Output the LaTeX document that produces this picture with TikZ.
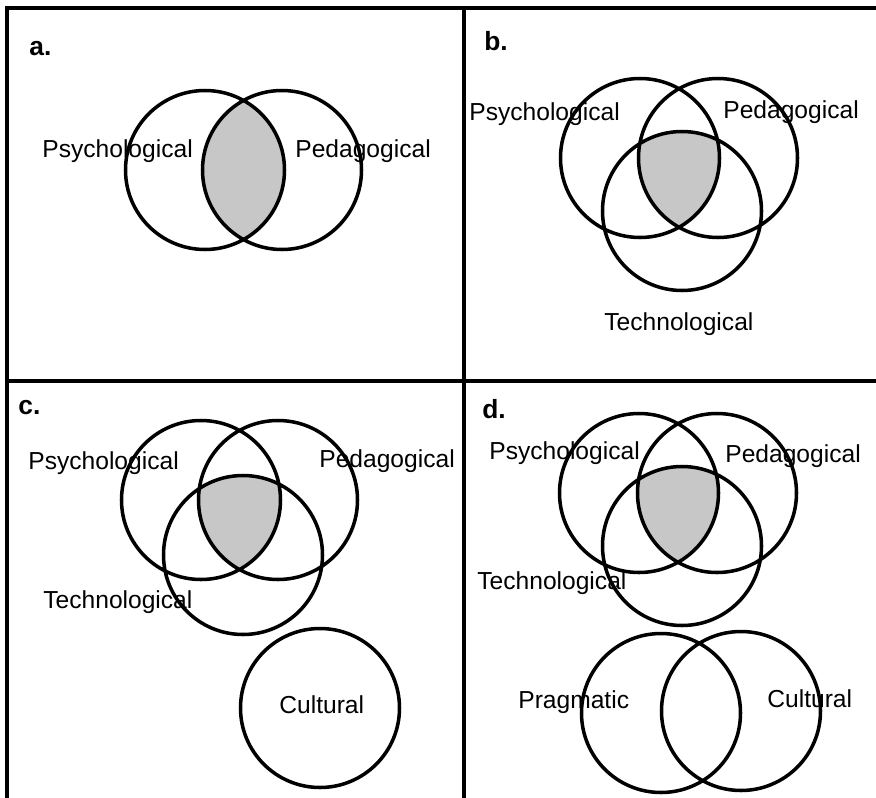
\documentclass[tikz,border=0pt]{standalone}
\usepackage{fontspec, tikz, tkz-euclide}
\setmainfont{Liberation Sans}

\tikzset{
  ring/.style={line width=2pt},
  core/.style={fill=black!22},
  lbl/.style={anchor=base west, inner sep=0pt, font=\fontsize{14}{16}\selectfont},
  tag/.style={anchor=base west, inner sep=0pt, font=\fontsize{15}{18}\selectfont\bfseries}
}
\def\rr{79.5}

\begin{document}
\begin{tikzpicture}[x=0.02cm, y=-0.02cm]
    \useasboundingbox (0,0) rectangle (876,798);
    % frame
    \tkzDefPoints{7/8/TL, 876/8/TR, 7/798/BL, 464/8/MT, 464/798/MB, 7/381/ML, 876/381/MR}
    \draw[ring] (BL) -- (TL) -- (TR) (MT) -- (MB) (ML) -- (MR);

    % a.
    \tkzDefPoints{205/170/aP, 282/170/aD}
    \begin{scope}
        \clip (aP) circle (\rr);
        \fill[core] (aD) circle (\rr);
    \end{scope}
    \draw[ring] (aP) circle (\rr) (aD) circle (\rr);
    \node[tag] (tagA) at (29,55) {a.};
    \node[lbl] (psyA) at (42,157) {Psychological};
    \node[lbl] (pedA) at (295,157) {Pedagogical};

    % b.
    \tkzDefPoints{640/158/bP, 718/158/bD, 682/211/bT}
    \begin{scope}
        \clip (bP) circle (\rr);
        \clip (bD) circle (\rr);
        \fill[core] (bT) circle (\rr);
    \end{scope}
    \draw[ring] (bP) circle (\rr) (bD) circle (\rr) (bT) circle (\rr);
    \node[tag] (tagB) at (484,50) {b.};
    \node[lbl] (psyB) at (469,120) {Psychological};
    \node[lbl] (pedB) at (723,118) {Pedagogical};
    \node[lbl] (tecB) at (604,330) {Technological};

    % c.
    \tkzDefPoints{201/500/cP, 278/500/cD, 243/555/cT, 320/708/cC}
    \begin{scope}
        \clip (cP) circle (\rr);
        \clip (cD) circle (\rr);
        \fill[core] (cT) circle (\rr);
    \end{scope}
    \draw[ring] (cP) circle (\rr) (cD) circle (\rr) (cT) circle (\rr) (cC) circle (\rr);
    \node[tag] (tagC) at (18,414) {c.};
    \node[lbl] (psyC) at (28,469) {Psychological};
    \node[lbl] (pedC) at (319,467) {Pedagogical};
    \node[lbl] (tecC) at (43,608) {Technological};
    \node[lbl] (culC) at (279,713) {Cultural};

    % d.
    \tkzDefPoints{639/493/dP, 717/493/dD, 682/546/dT, 661/713/dG, 741/711/dC}
    \begin{scope}
        \clip (dP) circle (\rr);
        \clip (dD) circle (\rr);
        \fill[core] (dT) circle (\rr);
    \end{scope}
    \draw[ring] (dP) circle (\rr) (dD) circle (\rr) (dT) circle (\rr)
        (dG) circle (\rr) (dC) circle (\rr);
    \node[tag] (tagD) at (482,418) {d.};
    \node[lbl] (psyD) at (489,459) {Psychological};
    \node[lbl] (pedD) at (725,462) {Pedagogical};
    \node[lbl] (tecD) at (477,589) {Technological};
    \node[lbl] (praD) at (518,708) {Pragmatic};
    \node[lbl] (culD) at (767,707) {Cultural};
\end{tikzpicture}
\end{document}
